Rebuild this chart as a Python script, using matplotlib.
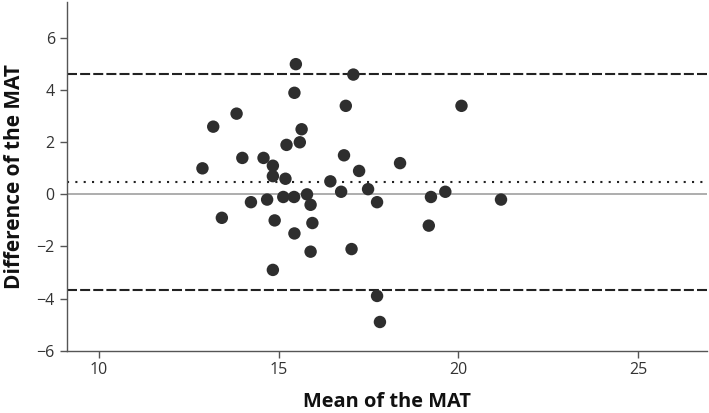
import matplotlib
matplotlib.use("Agg")
import matplotlib.pyplot as plt
import numpy as np

plt.rcParams["font.family"] = ["Open Sans", "DejaVu Sans"]

# Bland-Altman data
mean_mat = [
    12.88, 13.18, 13.42, 13.83, 13.99, 14.23, 14.58, 14.68, 14.84, 14.84,
    14.89, 14.84, 15.13, 15.19, 15.22, 15.43, 15.44, 15.44, 15.48, 15.59,
    15.64, 15.79, 15.89, 15.94, 15.89, 16.44, 16.74, 16.82, 16.87, 17.03,
    17.08, 17.24, 17.49, 17.74, 17.74, 17.82, 18.38, 19.18, 19.24, 19.64,
    20.09, 21.19,
]
diff_mat = [
    1.0, 2.6, -0.9, 3.1, 1.4, -0.3, 1.4, -0.2, 1.1, 0.7,
    -1.0, -2.9, -0.1, 0.6, 1.9, -0.1, -1.5, 3.9, 5.0, 2.0,
    2.5, 0.0, -0.4, -1.1, -2.2, 0.5, 0.1, 1.5, 3.4, -2.1,
    4.6, 0.9, 0.2, -0.3, -3.9, -4.9, 1.2, -1.2, -0.1, 0.1,
    3.4, -0.2,
]
mean_diff = 0.46
upper_loa = 4.62
lower_loa = -3.67

fig = plt.figure(figsize=(7.09, 4.13), dpi=100)
ax = fig.add_axes([0.094, 0.151, 0.903, 0.845])

ax.axhline(0, color="#a0a0a0", linewidth=1.2, zorder=1)
ax.axhline(mean_diff, color="#222222", linewidth=1.5, linestyle=(0, (1, 3)), zorder=2)
ax.axhline(upper_loa, color="#222222", linewidth=1.5, linestyle=(0, (4.8, 1.5)), zorder=2)
ax.axhline(lower_loa, color="#222222", linewidth=1.5, linestyle=(0, (4.8, 1.5)), zorder=2)

ax.scatter(mean_mat, diff_mat, s=80, color="#2e2e2e", edgecolors="none", zorder=3)

ax.set_xlim(9.1, 26.92)
ax.set_ylim(-6.0, 7.4)
ax.set_xticks([10, 15, 20, 25])
ax.set_yticks([-6, -4, -2, 0, 2, 4, 6])
ax.set_yticklabels(["\u22126", "\u22124", "\u22122", "0", "2", "4", "6"])

for side in ["top", "right"]:
    ax.spines[side].set_visible(False)
for side in ["left", "bottom"]:
    ax.spines[side].set_color("#555555")
    ax.spines[side].set_linewidth(1.0)
ax.tick_params(colors="#555555", labelcolor="#333333", labelsize=11.5, length=5, width=1.0)

ax.set_xlabel("Mean of the MAT", fontsize=14.4, fontweight="bold", color="#111111")
ax.set_ylabel("Difference of the MAT", fontsize=15, fontweight="bold", color="#111111", labelpad=8)
ax.xaxis.set_label_coords(0.5, -0.118)

fig.savefig("out.png", dpi=100)
